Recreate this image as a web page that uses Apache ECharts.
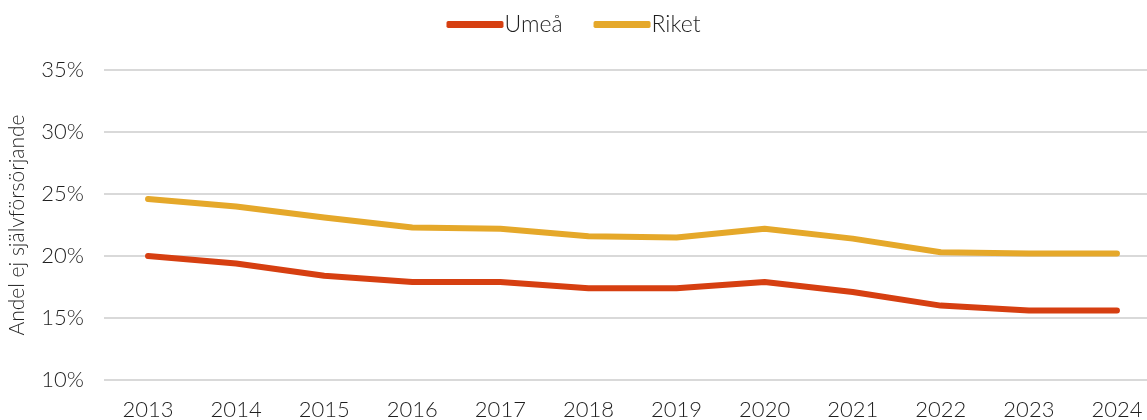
<!DOCTYPE html>
<html>
<head>
<meta charset="utf-8">
<script src="https://cdn.jsdelivr.net/npm/echarts@6/dist/echarts.min.js"></script>
<style>
  html, body { margin: 0; padding: 0; background: #fff; }
  #chart { width: 1147px; height: 420px; }
</style>
</head>
<body>
<div id="chart"></div>
<script>
// Share of population not self-supporting, Umeå vs. the whole country
const years = ['2013', '2014', '2015', '2016', '2017', '2018', '2019', '2020', '2021', '2022', '2023', '2024'];
const umea  = [20.0, 19.4, 18.4, 17.9, 17.9, 17.4, 17.4, 17.9, 17.1, 16.0, 15.6, 15.6];
const riket = [24.6, 24.0, 23.1, 22.3, 22.2, 21.6, 21.5, 22.2, 21.4, 20.3, 20.2, 20.2];
const seriesNames = ['Umeå', 'Riket'];
const yTicks = { min: 10, max: 35, interval: 5 };

const FONT = 'Lato, "Noto Sans", sans-serif';
const TEXT = '#1f1f1f';

const chart = echarts.init(document.getElementById('chart'), null, { renderer: 'canvas' });

chart.setOption({
  animation: false,
  color: ['#D63F11', '#E5A82A'],
  textStyle: { fontFamily: FONT, color: TEXT },
  legend: {
    data: seriesNames,
    top: 8,
    left: 'center',
    icon: 'roundRect',
    itemWidth: 57,
    itemHeight: 7,
    itemGap: 31,
    textStyle: { fontFamily: FONT, fontSize: 23, fontWeight: 300, color: TEXT, padding: [0, 0, 0, -4] }
  },
  grid: { left: 104, width: 1057, top: 70, bottom: 40, outerBoundsMode: 'none', containLabel: false },
  xAxis: {
    type: 'category',
    data: years,
    boundaryGap: true,
    axisLine: { show: false },
    axisTick: { show: false },
    axisLabel: { fontFamily: FONT, fontSize: 22, fontWeight: 300, color: TEXT, margin: 19 }
  },
  yAxis: {
    type: 'value',
    min: yTicks.min,
    max: yTicks.max,
    interval: yTicks.interval,
    name: 'Andel ej självförsörjande',
    nameLocation: 'middle',
    nameGap: 76,
    nameTextStyle: { fontFamily: FONT, fontSize: 21, fontWeight: 300, color: TEXT },
    axisLine: { show: false },
    axisTick: { show: false },
    axisLabel: { fontFamily: FONT, fontSize: 22, fontWeight: 300, color: TEXT, margin: 20, formatter: v => v + '%' },
    splitLine: { lineStyle: { color: '#D9D9D9', width: 2 } }
  },
  series: [
    {
      name: seriesNames[0],
      type: 'line',
      data: umea,
      showSymbol: false,
      symbol: 'none',
      lineStyle: { width: 6, cap: 'round', join: 'round' }
    },
    {
      name: seriesNames[1],
      type: 'line',
      data: riket,
      showSymbol: false,
      symbol: 'none',
      lineStyle: { width: 6, cap: 'round', join: 'round' }
    }
  ]
});
</script>
</body>
</html>
